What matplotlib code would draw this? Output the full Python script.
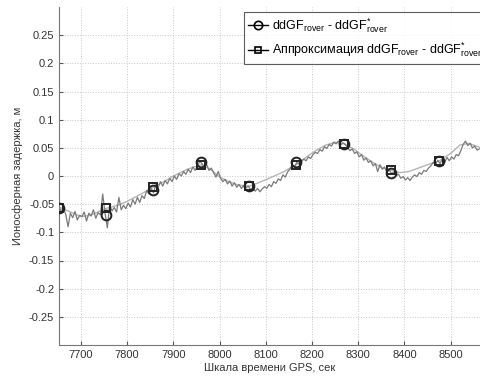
import numpy as np
import matplotlib
matplotlib.use('Agg')
import matplotlib.pyplot as plt
from matplotlib.lines import Line2D

plt.rcParams['font.family'] = ['Liberation Sans', 'DejaVu Sans']
plt.rcParams['mathtext.fontset'] = 'custom'
plt.rcParams['mathtext.rm'] = 'Liberation Sans'
plt.rcParams['mathtext.it'] = 'Liberation Sans:italic'

# measured difference, 5 s step starting at t0
t0 = 7652
dt = 5
ddgf = [
    -0.055, -0.062, -0.058, -0.068, -0.090, -0.066, -0.074, -0.063, -0.078, -0.070,
    -0.072, -0.064, -0.080, -0.066, -0.071, -0.060, -0.075, -0.065, -0.069, -0.032,
    -0.066, -0.092, -0.052, -0.062, -0.056, -0.064, -0.038, -0.060, -0.052, -0.058,
    -0.048, -0.055, -0.042, -0.050, -0.038, -0.047, -0.035, -0.040, -0.026, -0.032,
    -0.022, -0.030, -0.015, -0.020, -0.010, -0.018, -0.008, -0.014, -0.004, -0.010,
    0.000, -0.006, 0.004, 0.000, 0.008, 0.003, 0.012, 0.006, 0.016, 0.010,
    0.018, 0.026, 0.022, 0.016, 0.020, 0.010, 0.014, 0.006, -0.002, 0.008,
    -0.004, -0.010, -0.006, -0.014, -0.009, -0.018, -0.012, -0.020, -0.015, -0.022,
    -0.017, -0.021, -0.018, -0.024, -0.020, -0.027, -0.022, -0.028, -0.023, -0.019,
    -0.022, -0.015, -0.019, -0.010, -0.013, -0.005, -0.008, 0.002, -0.002, 0.007,
    0.012, 0.020, 0.016, 0.024, 0.021, 0.026, 0.030, 0.027, 0.034, 0.031,
    0.038, 0.042, 0.040, 0.047, 0.044, 0.052, 0.049, 0.056, 0.053, 0.060,
    0.057, 0.062, 0.055, 0.059, 0.056, 0.050, 0.045, 0.048, 0.040, 0.043,
    0.034, 0.038, 0.028, 0.032, 0.024, 0.027, 0.018, 0.022, 0.008, 0.020,
    0.012, 0.016, 0.006, 0.011, 0.004, 0.007, 0.001, 0.003, -0.004, -0.001,
    -0.007, -0.003, -0.008, -0.002, 0.002, -0.001, 0.006, 0.003, 0.010, 0.008,
    0.014, 0.018, 0.024, 0.020, 0.028, 0.022, 0.030, 0.024, 0.033, 0.027,
    0.034, 0.030, 0.038, 0.036, 0.045, 0.056, 0.062, 0.054, 0.058, 0.050,
    0.053, 0.046, 0.048,
]
t_ddgf = t0 + dt * np.arange(len(ddgf))

# approximation curve
approx_t = [7652, 7680, 7700, 7720, 7752, 7780, 7800, 7830, 7856, 7880,
            7900, 7930, 7960, 7980, 8000, 8020, 8040, 8065, 8090, 8110,
            8140, 8165, 8190, 8210, 8230, 8250, 8270, 8290, 8310, 8330,
            8350, 8372, 8390, 8410, 8430, 8450, 8475, 8500, 8520, 8540, 8565]
approx_v = [-0.055, -0.065, -0.072, -0.070, -0.058, -0.052, -0.045, -0.032, -0.020, -0.010,
            0.000, 0.012, 0.020, 0.012, -0.002, -0.010, -0.016, -0.018, -0.010, -0.003,
            0.008, 0.020, 0.035, 0.046, 0.055, 0.060, 0.057, 0.048, 0.036, 0.025,
            0.015, 0.010, 0.006, 0.008, 0.014, 0.020, 0.027, 0.040, 0.055, 0.058, 0.050]

# marker positions
mark_t = [7652, 7754, 7856, 7960, 8063, 8165, 8269, 8371, 8475]
mark_ddgf = [-0.056, -0.069, -0.025, 0.025, -0.018, 0.024, 0.057, 0.006, 0.027]
mark_approx = [-0.056, -0.057, -0.020, 0.019, -0.018, 0.020, 0.056, 0.010, 0.026]

x_ticks = [7700, 7800, 7900, 8000, 8100, 8200, 8300, 8400, 8500]
y_ticks = [-0.25, -0.2, -0.15, -0.1, -0.05, 0, 0.05, 0.1, 0.15, 0.2, 0.25]

fig = plt.figure(figsize=(4.81, 3.78), dpi=100)
ax = fig.add_axes([59 / 481, 33 / 378, 1 - 59 / 481, 338 / 378])

ax.plot(approx_t, approx_v, color='#b4b4b4', lw=1.0, zorder=2)
ax.plot(t_ddgf, ddgf, color='#7a7a7a', lw=0.9, zorder=3)
ax.plot(mark_t, mark_ddgf, ls='none', marker='o', ms=7, mfc='none',
        mec='#222222', mew=1.4, zorder=4)
ax.plot(mark_t, mark_approx, ls='none', marker='s', ms=6, mfc='none',
        mec='#222222', mew=1.4, zorder=4)

ax.set_xlim(7652.4, 8565.6)
ax.set_ylim(-0.3, 0.3)
ax.set_xticks(x_ticks)
ax.set_yticks(y_ticks)
ax.set_yticklabels(['%g' % v for v in y_ticks])
ax.grid(True, ls=':', color='#c8c8c8', lw=0.7)
ax.tick_params(direction='in', length=3, labelsize=8, colors='#555555',
               labelcolor='#333333')
for s in ['top', 'right']:
    ax.spines[s].set_visible(False)
for s in ['left', 'bottom']:
    ax.spines[s].set_color('#777777')

ax.set_xlabel('Шкала времени GPS, сек', fontsize=8, color='#333333', labelpad=2)
ax.set_ylabel('Ионосферная задержка, м', fontsize=8, color='#333333', labelpad=4)

lab1 = r'ddGF$_{\mathrm{rover}}$ - ddGF$^{*}_{\mathrm{rover}}$'
lab2 = r'Аппроксимация ddGF$_{\mathrm{rover}}$ - ddGF$^{*}_{\mathrm{rover}}$'
h1 = Line2D([], [], color='black', lw=1.0, marker='o', ms=6, mfc='none', mew=1.2)
h2 = Line2D([], [], color='black', lw=1.0, marker='s', ms=5, mfc='none', mew=1.2)
leg = fig.legend([h1, h2], [lab1, lab2], loc='upper left',
                 bbox_to_anchor=(244 / 481, 1 - 12 / 378), fontsize=9,
                 frameon=True, fancybox=False, handlelength=1.6,
                 handletextpad=0.25, borderpad=0.35, labelspacing=0.45,
                 borderaxespad=0)
leg.get_frame().set_edgecolor('#333333')
leg.get_frame().set_linewidth(0.8)

fig.savefig('out.png', dpi=100)
